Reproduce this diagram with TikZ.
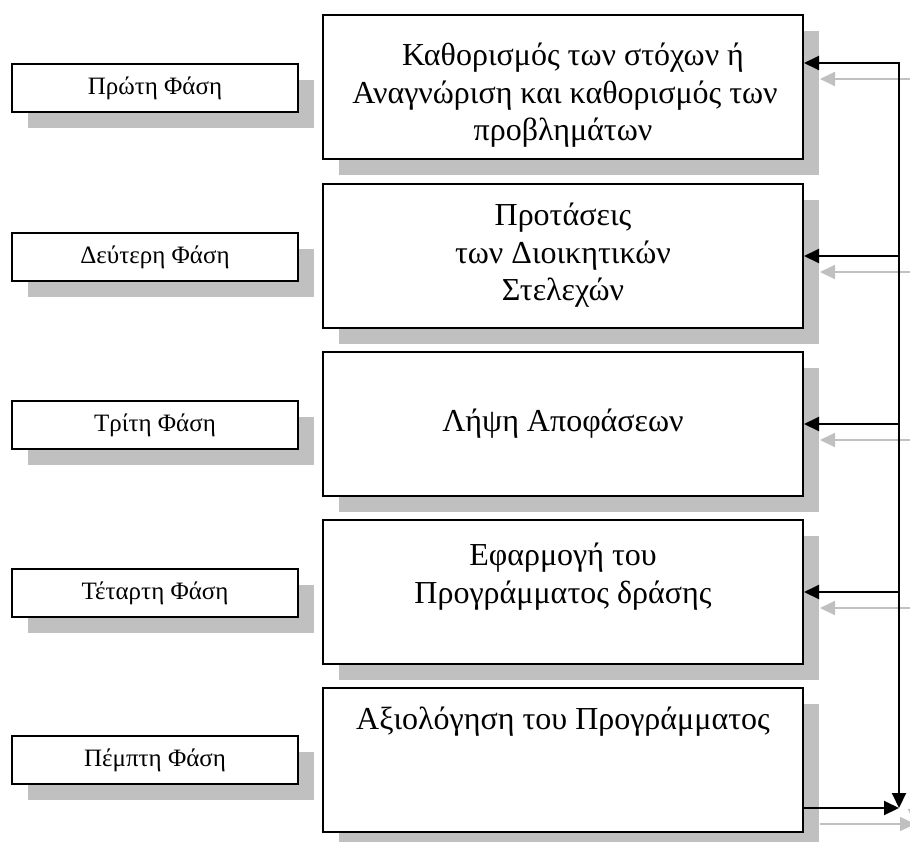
\documentclass[tikz,border=0pt]{standalone}
\usepackage{fontspec}
\setmainfont{Liberation Serif}
\usetikzlibrary{arrows.meta}
\definecolor{shadowgray}{RGB}{192,192,192}
\tikzset{
  bigbox/.style={draw=black, line width=2pt, fill=white, minimum width=480pt, minimum height=144pt, inner sep=0pt},
  smallbox/.style={draw=black, line width=2pt, fill=white, minimum width=286pt, minimum height=48pt, inner sep=0pt,
     font=\fontsize{25}{29}\selectfont},
  bigtext/.style={anchor=base, inner sep=0pt, font=\fontsize{32}{37.5}\selectfont},
  conn/.style={line width=2pt, draw=black, -{Triangle[length=15pt,width=14pt]}},
  connshadow/.style={line width=2pt, draw=shadowgray, -{Triangle[length=15pt,width=14pt]}},
}
\begin{document}
\begin{tikzpicture}[x=1pt,y=-1pt]
\useasboundingbox (0,0) rectangle (910,841);
\clip (0,0) rectangle (910,841);
% shadows of boxes
\foreach \t in {15,184,352,520,688}{
  \fill[shadowgray] (339,\t+16) rectangle (819,\t+160);
}
\foreach \t in {64,233,401,569,736}{
  \fill[shadowgray] (28,\t+16) rectangle (314,\t+64);
}
% big boxes
\node[bigbox] (b1) at (563,87) {};
\node[bigbox] (b2) at (563,256) {};
\node[bigbox] (b3) at (563,424) {};
\node[bigbox] (b4) at (563,592) {};
\node[bigbox] (b5) at (563,760) {};
% small boxes
\node[smallbox] (s1) at (155,88) {Πρώτη Φάση};
\node[smallbox] (s2) at (155,257) {Δεύτερη Φάση};
\node[smallbox] (s3) at (155,425) {Τρίτη Φάση};
\node[smallbox] (s4) at (155,593) {Τέταρτη Φάση};
\node[smallbox] (s5) at (155,760) {Πέμπτη Φάση};
% texts
\node[bigtext] (t11) at (573,65) {Καθορισμός των στόχων ή};
\node[bigtext] (t12) at (565,103) {Αναγνώριση και καθορισμός των};
\node[bigtext] (t13) at (563,140) {προβλημάτων};
\node[bigtext] (t21) at (563,225) {Προτάσεις};
\node[bigtext] (t22) at (563,263) {των Διοικητικών};
\node[bigtext] (t23) at (563,300) {Στελεχών};
\node[bigtext] (t31) at (563,431) {Λήψη Αποφάσεων};
\node[bigtext] (t41) at (563,565) {Εφαρμογή του};
\node[bigtext] (t42) at (563,603) {Προγράμματος δράσης};
\node[bigtext] (t51) at (563,729) {Αξιολόγηση του Προγράμματος};
% connector coordinates
\coordinate (top) at (899,63);
\coordinate (bot) at (899,808);
\coordinate (e1) at (b1.east |- top);
\coordinate (e5) at (b5.east |- bot);
% arrow shadows
\draw[connshadow] ([shift={(16,16)}]top) -- ([shift={(16,16)}]bot);
\draw[connshadow] ([shift={(16,16)}]e5) -- ([shift={(16,16)}]bot);
\draw[connshadow] ([shift={(16,16)}]top) -- ([shift={(16,16)}]e1);
\foreach \b in {b2,b3,b4}{
  \draw[connshadow] ([shift={(16,16)}]top |- \b.east) -- ([shift={(16,16)}]\b.east);
}
% arrows
\draw[conn] (top) -- (bot);
\draw[conn] (e5) -- (bot);
\draw[conn] (top) -- (e1);
\foreach \b in {b2,b3,b4}{
  \draw[conn] (top |- \b.east) -- (\b.east);
}
\fill[black] ([shift={(-1,-1)}]top) rectangle ([shift={(1,1)}]top);
\end{tikzpicture}
\end{document}
